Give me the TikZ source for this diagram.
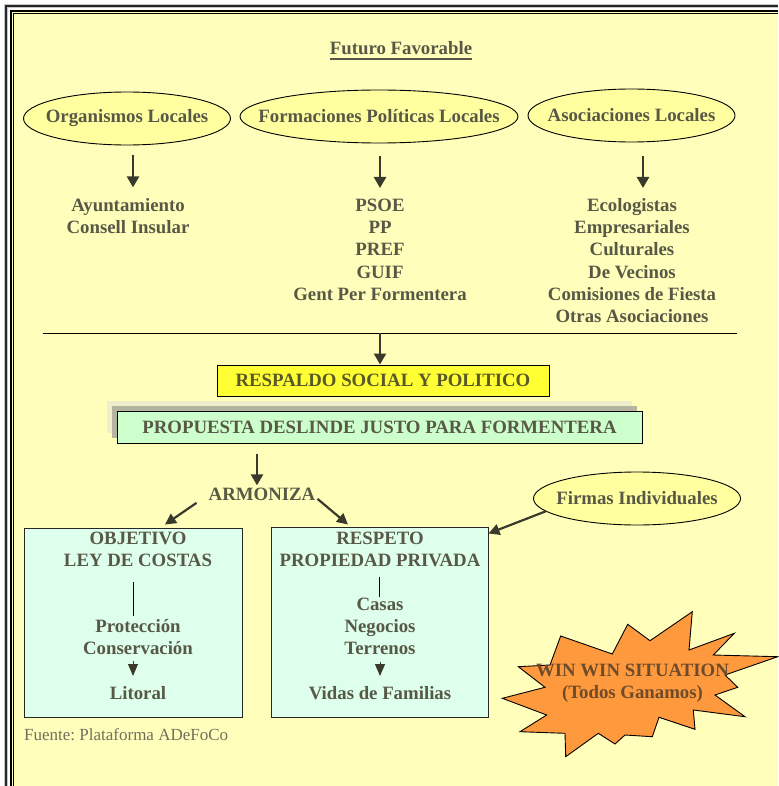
\documentclass[tikz,border=0pt]{standalone}
\usepackage{fontspec}
\setmainfont{Liberation Serif}
\usetikzlibrary{arrows.meta,shapes.geometric}
\frenchspacing

\definecolor{paper}{RGB}{255,255,187}
\definecolor{ink}{RGB}{88,88,70}
\definecolor{bannerink}{RGB}{88,88,40}
\definecolor{softink}{RGB}{112,112,92}
\definecolor{ovalfill}{RGB}{255,255,160}
\definecolor{banner}{RGB}{255,255,51}
\definecolor{mint}{RGB}{204,255,204}
\definecolor{panel}{RGB}{221,255,236}
\definecolor{shadowlight}{RGB}{238,238,204}
\definecolor{shadowdark}{RGB}{180,180,160}
\definecolor{burst}{RGB}{255,153,61}
\definecolor{burstink}{RGB}{110,76,42}
\definecolor{arrowink}{RGB}{58,58,44}

\begin{document}
\begin{tikzpicture}[x=1pt,y=-1pt,
  bold/.style={font=\fontsize{18.8}{22.3}\selectfont\bfseries, text=ink},
  col/.style={bold, align=center, inner sep=0pt, anchor=north},
  oval/.style={ellipse, draw=black, line width=0.9pt, fill=ovalfill, inner sep=0pt,
               minimum height=53pt},
  ovaltext/.style={bold, inner sep=0pt},
  boxline/.style={draw=black!85, line width=1pt},
  bigarrow/.style={draw=arrowink, line width=2.4pt,
                   -{Triangle[length=11pt,width=12pt,fill=arrowink]}},
  slant/.style={draw=arrowink, line width=2.2pt,
                -{Triangle[length=11pt,width=11pt,fill=arrowink]}},
  smallhead/.style={draw=arrowink, line width=1pt,
                    -{Triangle[length=12pt,width=10pt,fill=arrowink]}},
  thin/.style={draw=black, line width=0.9pt}
]
\useasboundingbox (0,0) rectangle (778,786);

% page and frame
\fill[white] (0,0) rectangle (778,786);
\fill[paper] (10,10) rectangle (778,786);
\draw[gray!45, line width=4pt] (6,786) -- (6,6) -- (778,6);
\draw[gray!30!black, line width=1.2pt] (6,786) -- (6,6) -- (778,6);
\draw[black, line width=2pt] (11,786) -- (11,11) -- (778,11);
\draw[black, line width=1.1pt] (13.6,786) -- (13.6,13.6) -- (778,13.6);

% title
\node[bold, inner sep=0pt, anchor=base] (title) at (401,55) {Futuro Favorable};
\draw[ink, line width=1.5pt] ([yshift=-4pt]title.base west) -- ([yshift=-4pt]title.base east);

% three groups
\node[oval, minimum width=207pt] (org) at (127,118.5) {};
\node[oval, minimum width=278pt] (pol) at (379,116.5) {};
\node[oval, minimum width=207pt] (aso) at (631.5,115.5) {};
\node[ovaltext] (orgtext) at (org.center) {Organismos Locales};
\node[ovaltext] (poltext) at (pol.center) {Formaciones Políticas Locales};
\node[ovaltext] (asotext) at (aso.center) {Asociaciones Locales};

\node[col] (ayunt) at (128,195.4) {\strut Ayuntamiento\\\strut Consell Insular};
\node[col] (partidos) at (380,195.4) {\strut PSOE\\\strut PP\\\strut PREF\\\strut GUIF\\\strut Gent Per Formentera};
\node[col] (asocs) at (632,195.4) {\strut Ecologistas\\\strut Empresariales\\\strut Culturales\\\strut De Vecinos\\\strut Comisiones de Fiesta\\\strut Otras Asociaciones};

\draw[bigarrow] ([xshift=6pt,yshift=-10pt]org.south) -- ([xshift=5pt,yshift=8pt]ayunt.north);
\draw[bigarrow] ([xshift=1pt,yshift=-13pt]pol.south) -- ([yshift=7.4pt]partidos.north);
\draw[bigarrow] ([xshift=11.5pt,yshift=-14pt]aso.south) -- ([xshift=11pt,yshift=7.4pt]asocs.north);

% gathering rule
\coordinate (ruleL) at (43,333);
\coordinate (ruleR) at (737,333);
\coordinate (ruleTap) at (380,333);
\draw[thin] (ruleL) -- (ruleR);

% support banner
\node[draw=black, line width=1pt, fill=banner, minimum width=332pt, minimum height=31pt,
      inner sep=0pt, bold, text=bannerink] (respaldo) at (383,380.5) {RESPALDO SOCIAL Y POLITICO};
\draw[bigarrow] (ruleTap) -- ([xshift=-3pt]respaldo.north);

% proposal banner with layered shadow
\fill[shadowlight] (107,401) rectangle (632,433);
\fill[shadowdark] (112,406) rectangle (637,438);
\node[draw=black, line width=1pt, fill=mint, minimum width=525pt, minimum height=32pt,
      inner sep=0pt, bold] (propuesta) at (379.5,427) {PROPUESTA DESLINDE JUSTO PARA FORMENTERA};

\node[bold, inner sep=0pt, anchor=base] (armon) at (262,500) {ARMONIZA};
\draw[bigarrow] ([xshift=-122.5pt,yshift=-10pt]propuesta.south) -- ([xshift=-5pt,yshift=2pt]armon.north);

\node[oval, minimum width=207pt] (firmas) at (637,498.5) {};
\node[ovaltext] (firmastext) at (firmas.center) {Firmas Individuales};

% the two goals
\node[boxline, fill=panel, minimum width=218pt, minimum height=189pt, inner sep=0pt] (ley) at (133,622.5) {};
\node[boxline, fill=panel, minimum width=217pt, minimum height=190pt, inner sep=0pt] (prop) at (379.5,622) {};

\draw[slant] ([xshift=-12pt,yshift=-9pt]armon.west) -- ([xshift=32pt,yshift=3pt]ley.north);
\draw[slant] ([xshift=2pt,yshift=-5pt]armon.east) -- ([xshift=-31.5pt,yshift=2pt]prop.north);
\draw[slant] (firmas.188) -- ([yshift=-7pt]prop.north east);

\node[col] (objetivo) at (138,528.4) {\strut OBJETIVO\\\strut LEY DE COSTAS};
\node[col] (proteccion) at (138,616.4) {\strut Protección\\\strut Conservación};
\node[col] (litoral) at (138,683.4) {\strut Litoral};
\draw[thin] ([xshift=-5pt,yshift=-9pt]objetivo.south) -- ([xshift=-5pt]proteccion.north);
\draw[smallhead] ([xshift=-5pt]proteccion.south) -- ([xshift=-5pt,yshift=7.4pt]litoral.north);

\node[col] (respeto) at (380,528.4) {\strut RESPETO\\\strut PROPIEDAD PRIVADA};
\node[col] (bienes) at (380,594.4) {\strut Casas\\\strut Negocios\\\strut Terrenos};
\node[col] (vidas) at (380,683.4) {\strut Vidas de Familias};
\draw[thin] ([xshift=-1pt,yshift=-4pt]respeto.south) -- ([xshift=-1pt,yshift=-2.6pt]bienes.north);
\draw[smallhead] (bienes.south) -- ([yshift=7.4pt]vidas.north);

% source note
\node[font=\fontsize{17}{20}\selectfont, text=softink, inner sep=0pt, anchor=base west] (fuente) at (24,740) {Fuente: Plataforma ADeFoCo};

% win-win burst
\filldraw[fill=burst, draw=black, line width=0.9pt]
  (502.3,698.3) -- (545,687.3) -- (518.3,666.7) -- (550,665) -- (560.7,636) -- (612.3,654)
  -- (627.7,624.3) -- (650,640.7) -- (692.3,611.7) -- (689,650) -- (734.3,633.3) -- (713.3,655)
  -- (777.7,656.7) -- (725,675) -- (737.7,687.3) -- (715,695) -- (745,716.7) -- (693.3,710)
  -- (695,729.3) -- (659,717.3) -- (652.3,736.7) -- (625,735) -- (615,744) -- (598.3,733.3)
  -- (565.7,756.7) -- (565,733.3) -- (520,731.7) -- (546.7,715) -- cycle;
\node[bold, text=burstink, align=center, inner sep=0pt, anchor=north] (winwin) at (632.5,660.4)
  {\strut WIN WIN SITUATION\\\strut (Todos Ganamos)};
\end{tikzpicture}
\end{document}
